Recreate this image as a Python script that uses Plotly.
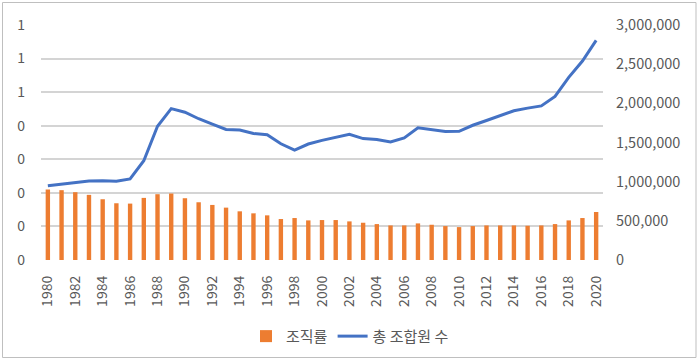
import plotly.graph_objects as go

years = list(range(1980, 2021))
density = [0.210, 0.208, 0.202, 0.194, 0.181, 0.169, 0.168, 0.185, 0.196, 0.198,
           0.184, 0.172, 0.164, 0.156, 0.145, 0.139, 0.133, 0.122, 0.125, 0.118,
           0.119, 0.119, 0.115, 0.111, 0.107, 0.103, 0.103, 0.109, 0.105, 0.101,
           0.098, 0.101, 0.103, 0.103, 0.103, 0.102, 0.103, 0.107, 0.118, 0.125,
           0.143]
members = [948134, 966738, 984136, 1009881, 1010522, 1004398, 1035890, 1267457, 1707456, 1932415,
           1886884, 1803408, 1734598, 1667373, 1659011, 1614800, 1598558, 1484194, 1401940, 1480666,
           1526995, 1568723, 1605972, 1549949, 1536843, 1506172, 1559179, 1687782, 1665799, 1640334,
           1643113, 1719922, 1781337, 1847586, 1905470, 1938745, 1966881, 2088540, 2331632, 2539652,
           2804633]
left_tickvals = [0, 0.1, 0.2, 0.3, 0.4, 0.5, 0.6, 0.7]
left_ticktext = ["0", "0", "0", "0", "0", "1", "1", "1"]
x_tickvals = list(range(1980, 2021, 2))

font_family = "Noto Sans CJK KR, Noto Sans, sans-serif"
tick_color = "#595959"

fig = go.Figure()
fig.add_trace(go.Bar(x=years, y=density, name="조직률", marker_color="#ED7D31",
                     marker_line_width=0, yaxis="y"))
fig.add_trace(go.Scatter(x=years, y=members, name="총 조합원 수", mode="lines",
                         line=dict(color="#4472C4", width=3), yaxis="y2"))

fig.update_layout(
    width=700, height=360,
    margin=dict(l=41, r=97, t=25, b=100, autoexpand=False),
    paper_bgcolor="white", plot_bgcolor="white",
    font=dict(family=font_family, size=14, color=tick_color),
    bargap=0.68,
    showlegend=True,
    legend=dict(orientation="h", x=(350 - 41) / 562, xanchor="center", y=-0.325, yanchor="middle",
                font=dict(size=15, color=tick_color), itemwidth=30, tracegroupgap=0),
    xaxis=dict(range=[1979.5, 2020.5], tickvals=x_tickvals, tickangle=-90,
               showgrid=False, zeroline=False, showline=False, ticks="", automargin=False,
               ticklabelstandoff=12, tickfont=dict(size=14, color=tick_color)),
    yaxis=dict(range=[0, 0.7], tickvals=left_tickvals, ticktext=left_ticktext,
               showgrid=True, gridcolor="#d4d4d4", gridwidth=1.5, zeroline=False,
               showline=False, ticks="", automargin=False, ticklabelstandoff=15,
               tickfont=dict(size=14, color=tick_color)),
    yaxis2=dict(range=[0, 3000000], dtick=500000, tickformat=",", overlaying="y",
                side="right", showgrid=False, zeroline=False, showline=False, ticks="",
                automargin=False, ticklabelstandoff=12,
                tickfont=dict(size=14.5, color=tick_color)),
    shapes=[dict(type="rect", xref="paper", yref="paper",
                 x0=(2.5 - 41) / 562, x1=(696 - 41) / 562,
                 y0=(260 - 357.5) / 235, y1=1 + (25 - 2.5) / 235,
                 line=dict(color="#bfbfbf", width=1), fillcolor="rgba(0,0,0,0)", layer="above")],
)

fig.write_html("out.html", config={"displayModeBar": False},
               post_script="document.body.style.margin='0';document.body.style.padding='0';")
